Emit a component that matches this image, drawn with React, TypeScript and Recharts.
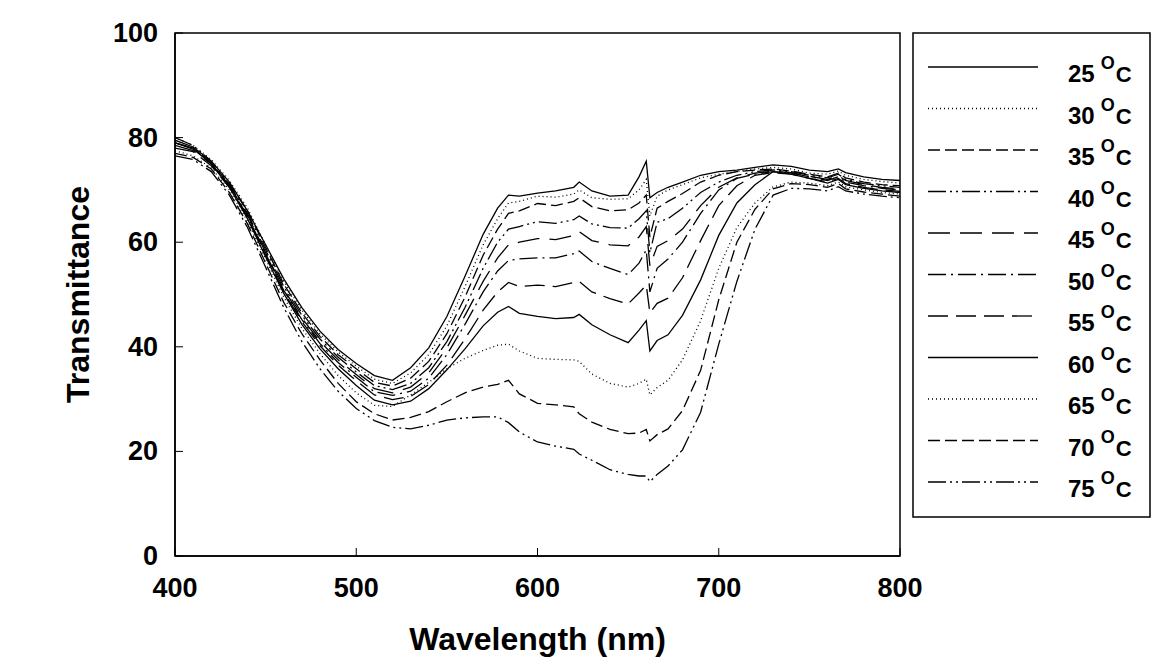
import React from 'react';
import { LineChart, Line, XAxis, YAxis, ReferenceArea } from 'recharts';

// wavelength grid (nm) and transmittance (%) per temperature
const WAVELENGTHS = [400, 410, 420, 430, 440, 450, 460, 470, 480, 490, 500, 510, 520, 530, 540, 550, 560, 570, 578, 584, 590, 600, 610, 620, 623, 630, 640, 650, 656, 660, 662, 666, 672, 680, 690, 700, 710, 720, 730, 740, 750, 760, 766, 770, 780, 790, 800];

const T25 = [79.5, 78.2, 75.5, 71.5, 66, 59.5, 53, 47.5, 43, 39.5, 36.8, 34.5, 33.6, 36, 39.8, 45.8, 53.5, 61.5, 66.5, 69, 68.8, 69.4, 69.8, 70.5, 71.5, 69.8, 68.8, 69, 72.5, 75.5, 68.5, 69.5, 70.5, 71.5, 72.8, 73.5, 73.8, 74.3, 74.8, 74.5, 73.8, 73.5, 74, 73.3, 72.5, 72, 71.8];
const T30 = [80, 78.5, 75.8, 71.8, 66.5, 59.5, 52.5, 47, 42.5, 39, 36.3, 33.8, 33, 35, 38.5, 44, 51.5, 59.5, 64.5, 67.5, 67.8, 68.8, 68.6, 69.2, 70, 68.5, 68.2, 68.3, 70, 72, 65, 68.8, 70, 71, 72.3, 73, 73.5, 74, 74.3, 74, 73.2, 73, 73.6, 72.8, 72, 71.6, 71.3];
const T35 = [79, 78, 75, 71.2, 66, 59, 52, 46.5, 42, 38.5, 35.8, 33.2, 32.5, 34, 37.2, 42.5, 49.5, 57.5, 62.5, 65.5, 66, 67.4, 67, 67.8, 68.5, 66.8, 66, 66.2, 67.5, 69, 61, 66.5, 67.8, 69.3, 71.5, 72.8, 73.5, 73.8, 74, 73.6, 73, 72.5, 73.2, 72.3, 71.5, 71, 70.8];
const T40 = [80, 78.5, 75.5, 71, 65.5, 58.5, 51.5, 46, 41.5, 38, 35.2, 32.6, 31.8, 33, 36, 41, 47.5, 55, 60, 62.5, 63, 63.9, 63.6, 64.3, 65, 63.5, 62.8, 62.7, 64.5, 66, 58, 63.8, 64.5, 66.5, 69.5, 71.5, 72.8, 73.5, 73.8, 73.5, 72.8, 72.3, 73, 72, 71.2, 70.8, 70.5];
const T45 = [78.5, 77.5, 75, 70.8, 65.2, 58, 51, 45.5, 41, 37.5, 34.7, 32, 31.2, 32.3, 35, 39.8, 46, 52.5, 57, 59.5, 60, 60.7, 60.5, 61.3, 62, 60.3, 59.5, 59.3, 61, 63, 55.5, 59.2, 60.3, 62.5, 67, 70.5, 72.3, 73.2, 73.6, 73.3, 72.6, 72, 72.7, 71.8, 71, 70.5, 70.2];
const T50 = [79, 78, 75.2, 70.8, 65, 57.8, 50.8, 45.2, 40.6, 37, 34.2, 31.4, 30.7, 31.5, 34, 38.5, 44.3, 50.5, 54.5, 56.5, 56.8, 57, 57, 57.8, 58.3, 56.3, 55, 53.8, 56, 58.5, 50.5, 55, 56.8, 60, 65.5, 70, 72.2, 73, 73.5, 73.2, 72.5, 71.8, 72.5, 71.5, 70.8, 70.3, 70];
const T55 = [78, 77.3, 74.6, 70.5, 64.8, 57.5, 50.5, 44.8, 40.2, 36.5, 33.5, 30.8, 29.9, 30.5, 32.8, 36.5, 41.5, 47, 50.5, 52.3, 51.5, 51.8, 51.5, 52.3, 52.5, 50.5, 49.2, 48.2, 50.3, 51.8, 46.5, 48.3, 49.3, 53.2, 60.3, 67, 70.8, 72.8, 73.3, 73, 72.2, 71.5, 72.2, 71.2, 70.5, 70, 69.7];
const T60 = [79, 77.8, 75, 70.5, 64.5, 57.2, 50.2, 44.3, 39.6, 35.8, 32.6, 29.8, 28.9, 29.6, 32, 35.6, 39.6, 44, 46.6, 47.7, 46.4, 45.8, 45.4, 45.6, 46.2, 44.2, 42.3, 40.8, 43.2, 45, 39.2, 41.2, 42.3, 46, 52.8, 61.3, 67.5, 71, 73.5, 73, 72.2, 71.3, 72, 71, 70.3, 69.8, 69.5];
const T65 = [77.5, 76.5, 74.2, 70, 64, 56.8, 49.5, 43.5, 38.7, 34.5, 31.2, 28.8, 28.6, 30.8, 33.2, 35.8, 37.8, 39.3, 40.3, 40.5, 39.2, 37.8, 37.6, 37.5, 37.2, 34.8, 33, 32.3, 33, 33.8, 30.8, 32.2, 33.6, 37.5, 45, 55, 62.8, 67.5, 70.6, 71.5, 71.3, 70.8, 71.5, 70.6, 70, 69.5, 69.2];
const T70 = [77, 76.2, 74, 69.5, 63.5, 56, 48.5, 42.5, 37.5, 33, 29.5, 27.2, 26, 26.5, 27.6, 29.5, 31.2, 32.3, 32.8, 33.6, 31, 29.2, 28.9, 28.5, 27.2, 25.6, 24.2, 23.4, 23.5, 24.2, 22, 23.2, 24.3, 27.8, 35.5, 49, 60, 66.3, 70.2, 71.2, 71, 70.5, 71.2, 70.2, 69.6, 69.2, 68.8];
const T75 = [76.5, 75.8, 73.5, 69, 62.8, 55.2, 47.5, 41, 35.8, 31.5, 28.2, 25.9, 24.6, 24.3, 25, 26, 26.4, 26.6, 26.6, 25.5, 23.7, 21.8, 21, 20.4, 19.5, 18.3, 16.5, 15.6, 15.3, 15.3, 14.2, 15.6, 17.2, 20.3, 27.5, 40.5, 52.5, 62.5, 69, 70.3, 70.2, 69.8, 70.6, 69.8, 69.2, 68.8, 68.5];

const TEMPERATURES = ['25', '30', '35', '40', '45', '50', '55', '60', '65', '70', '75'];
const SERIES_VALUES = [T25, T30, T35, T40, T45, T50, T55, T60, T65, T70, T75];

const X_TICKS = [400, 500, 600, 700, 800];
const Y_TICKS = [0, 20, 40, 60, 80, 100];

// line patterns, in legend order
const DASHES = [
  undefined,
  '1 3',
  '12 5',
  '18 4 2 4 2 4',
  '22 10',
  '18 5 2 5',
  '20 8',
  undefined,
  '1 3',
  '12 5',
  '18 4 2 4 2 4',
];

const data = WAVELENGTHS.map((wl, i) => {
  const row: Record<string, number> = { wl };
  TEMPERATURES.forEach((t, k) => {
    row['t' + t] = SERIES_VALUES[k][i];
  });
  return row;
});

const FONT = '"Liberation Sans", Arial, sans-serif';

const XTick = (props: any) => {
  const { x, y, payload } = props;
  return (
    <g>
      <line x1={x} x2={x} y1={y} y2={y - 8} stroke="#000" strokeWidth={1} />
      <text x={x} y={y + 41} textAnchor="middle" fontFamily={FONT} fontWeight="bold" fontSize={27} fill="#000">
        {payload.value}
      </text>
    </g>
  );
};

const YTick = (props: any) => {
  const { x, y, payload } = props;
  return (
    <g>
      <line x1={x} x2={x + 8} y1={y} y2={y} stroke="#000" strokeWidth={1} />
      <text x={x - 17} y={y + 9} textAnchor="end" fontFamily={FONT} fontWeight="bold" fontSize={27} fill="#000">
        {payload.value}
      </text>
    </g>
  );
};

const YLabel = (props: any) => {
  const { viewBox } = props;
  const cx = viewBox.x + 81;
  const cy = viewBox.y + viewBox.height / 2;
  return (
    <text
      x={cx}
      y={cy}
      transform={`rotate(-90 ${cx} ${cy})`}
      textAnchor="middle"
      fontFamily={FONT}
      fontWeight="bold"
      fontSize={32}
      fill="#000"
    >
      Transmittance
    </text>
  );
};

function LegendBox() {
  return (
    <svg
      width={240}
      height={488}
      style={{ position: 'absolute', left: 904, top: 24 }}
    >
      <rect x={1} y={1} width={237} height={484} fill="#fff" stroke="#000" strokeWidth={1.5} />
      {TEMPERATURES.map((t, i) => {
        const ly = 35 + i * 41.5;
        return (
          <g key={t}>
            <line x1={16} x2={126} y1={ly} y2={ly} stroke="#000" strokeWidth={1.3} strokeDasharray={DASHES[i]} />
            <text x={156} y={ly + 15} fontFamily={FONT} fontWeight="bold" fill="#000">
              <tspan fontSize={24}>{t}</tspan>
              <tspan fontSize={18} dx={6} dy={-13}>O</tspan>
              <tspan fontSize={22} dx={1} dy={13}>C</tspan>
            </text>
          </g>
        );
      })}
    </svg>
  );
}

export default function App() {
  return (
    <div style={{ position: 'relative', width: 1158, height: 654, background: '#fff' }}>
      <LineChart
        width={1158}
        height={654}
        data={data}
        margin={{ top: 25, right: 266, bottom: 0, left: 0 }}
      >
        <XAxis
          dataKey="wl"
          type="number"
          domain={[400, 800]}
          ticks={X_TICKS}
          allowDataOverflow
          height={106}
          tickSize={0}
          tickMargin={0}
          tick={<XTick />}
          axisLine={{ stroke: '#000', strokeWidth: 1.5 }}
          tickLine={false}
          label={{
            value: 'Wavelength (nm)',
            position: 'insideBottom',
            offset: 12,
            fontFamily: FONT,
            fontWeight: 'bold',
            fontSize: 32,
            fill: '#000',
          }}
        />
        <YAxis
          type="number"
          domain={[0, 100]}
          ticks={Y_TICKS}
          allowDataOverflow
          width={167}
          tickSize={0}
          tickMargin={0}
          tick={<YTick />}
          axisLine={{ stroke: '#000', strokeWidth: 1.5 }}
          tickLine={false}
          label={<YLabel />}
        />
        <ReferenceArea x1={400} x2={800} y1={0} y2={100} fill="none" stroke="#000" strokeWidth={1.5} />
        {TEMPERATURES.map((t, i) => (
          <Line
            key={t}
            type="linear"
            dataKey={'t' + t}
            stroke="#000"
            strokeWidth={1.3}
            strokeDasharray={DASHES[i]}
            dot={false}
            activeDot={false}
            isAnimationActive={false}
          />
        ))}
      </LineChart>
      <LegendBox />
    </div>
  );
}
